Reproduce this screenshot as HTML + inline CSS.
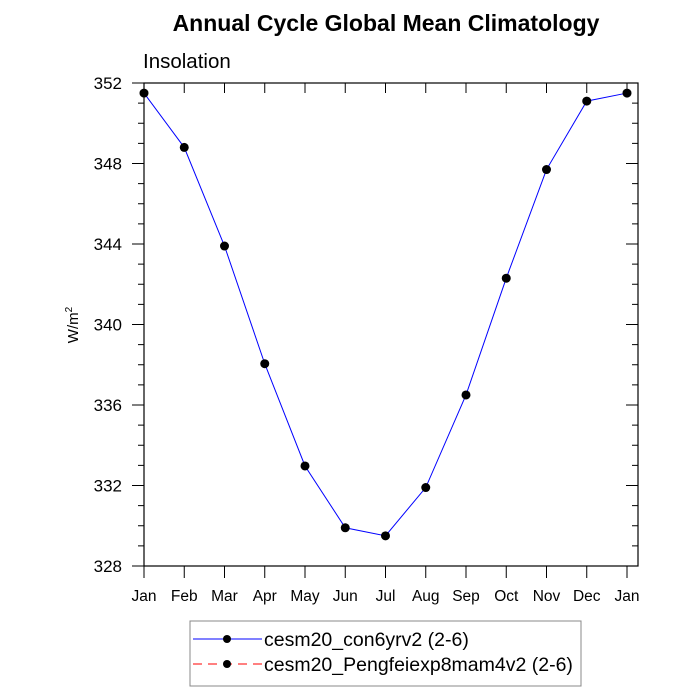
<!DOCTYPE html>
<html><head><meta charset="utf-8"><style>body{margin:0;background:#fff}svg{display:block}text{font-family:"Liberation Sans",sans-serif}</style></head>
<body>
<svg id="chart" width="700" height="700">
<text x="386" y="31" text-anchor="middle" font-size="23" font-weight="bold">Annual Cycle Global Mean Climatology</text>
<text x="143" y="68" font-size="20.5">Insolation</text>
<text transform="translate(78,325) rotate(-90)" text-anchor="middle" font-size="15">W/m<tspan dy="-6" font-size="10">2</tspan></text>
<rect x="144" y="83" width="494" height="483" fill="none" stroke="#000" stroke-width="1.2"/>
<g id="axes"></g>
<g id="series"></g>
<g>
<rect x="190" y="621" width="391" height="65" fill="#fff" stroke="#888"/>
<line x1="193" y1="639" x2="262" y2="639" stroke="#00f"/>
<circle cx="227" cy="639" r="4" fill="#000"/>
<text x="264" y="646" font-size="19.5">cesm20_con6yrv2 (2-6)</text>
<line x1="193" y1="664" x2="262" y2="664" stroke="#f00" stroke-dasharray="9,6"/>
<circle cx="227" cy="664" r="4" fill="#000"/>
<text x="264" y="671" font-size="19.5">cesm20_Pengfeiexp8mam4v2 (2-6)</text>
</g>
</svg>
<script>
const months = ["Jan","Feb","Mar","Apr","May","Jun","Jul","Aug","Sep","Oct","Nov","Dec","Jan"];
const insolation = [351.5,348.8,343.9,338.05,332.97,329.9,329.5,331.9,336.5,342.3,347.7,351.1,351.5];
const yTicks = [328,332,336,340,344,348,352];
const yMin = 328, yMax = 352;
const NS = "http://www.w3.org/2000/svg";
const X = i => 144 + i * (483 / 12);
const Y = v => 566 - (v - yMin) / (yMax - yMin) * 483;
const ax = document.getElementById('axes');
function mk(tag, at, parent){const e=document.createElementNS(NS,tag);for(const k in at)e.setAttribute(k,at[k]);parent.appendChild(e);return e;}
months.forEach((m,i)=>{
  const x=X(i);
  const t=mk('line',{x1:x,y1:566,x2:x,y2:578,stroke:'#000'},ax);
  
  
  const t2=mk('line',{x1:x,y1:83,x2:x,y2:93,stroke:'#000'},ax);
  
  
  const l=mk('text',{x:x,y:601,'text-anchor':'middle','font-size':'15.5'},ax);
  l.textContent=m;
  
  
});
for(let v=yMin; v<=yMax; v++){
  const y=Y(v), major=(v-yMin)%4===0;
  const len=major?12:6;
  const a=mk('line',{x1:144-len,y1:y,x2:144,y2:y,stroke:'#000'},ax);
  
  
  const b=mk('line',{x1:638,y1:y,x2:638-len,y2:y,stroke:'#000'},ax);
  
  
}
yTicks.forEach(v=>{
  const l=mk('text',{x:122,y:Y(v)+6,'text-anchor':'end','font-size':'17'},ax);
  l.textContent=v;
  
  
});
const sg=document.getElementById('series');
const pl=mk('polyline',{points:insolation.map((v,i)=>X(i)+','+Y(v)).join(' '),fill:'none',stroke:'#00f','stroke-width':'1'},sg);


insolation.forEach((v,i)=>{
  const c=mk('circle',{cx:X(i),cy:Y(v),r:4.5,fill:'#000'},sg);
  
  
});
</script>
</body></html>
